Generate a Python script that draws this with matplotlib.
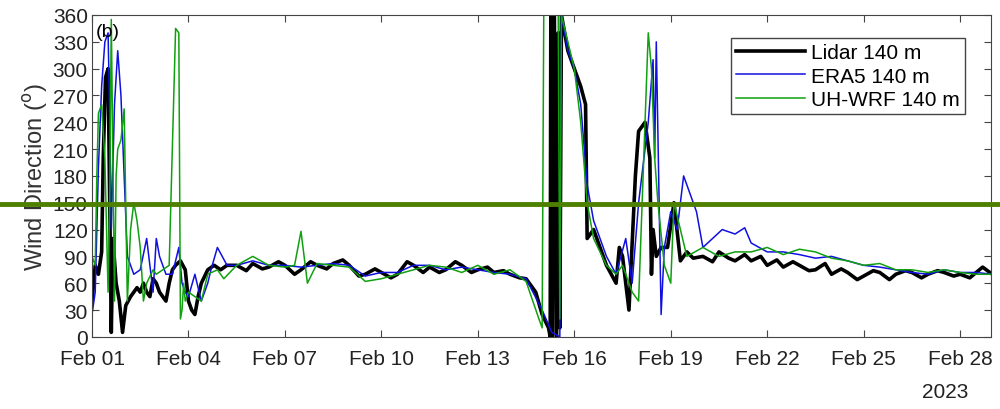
import matplotlib
matplotlib.use("Agg")
import matplotlib.pyplot as plt
from matplotlib.lines import Line2D

# ── data: (day offset from Feb 01, direction in deg) ──
lidar = [(0, 40), (.1, 80), (.2, 70), (.3, 95), (.35, 200), (.42, 290), (.5, 300), (.55, 150),
         (.6, 5), (.65, 110), (.75, 60), (.85, 40), (.95, 5), (1.05, 35), (1.2, 45), (1.4, 55),
         (1.5, 50), (1.6, 60), (1.7, 50), (1.8, 45), (1.9, 65), (2.0, 60), (2.1, 50), (2.2, 45),
         (2.3, 40), (2.4, 60), (2.5, 75), (2.6, 80), (2.75, 85), (2.9, 75), (3.0, 40), (3.1, 30),
         (3.2, 25), (3.3, 45), (3.4, 60), (3.6, 75), (3.8, 80), (4.0, 75), (4.2, 80), (4.5, 80),
         (4.8, 74), (5.0, 82), (5.3, 76), (5.5, 78), (5.8, 84), (6.0, 80), (6.3, 70), (6.5, 75),
         (6.8, 84), (7.0, 80), (7.3, 76), (7.5, 82), (7.8, 86), (8.0, 80), (8.3, 68), (8.5, 70),
         (8.8, 76), (9.0, 72), (9.3, 66), (9.5, 70), (9.8, 84), (10.0, 80), (10.3, 72),
         (10.5, 78), (10.8, 72), (11.0, 75), (11.3, 84), (11.5, 80), (11.8, 72), (12.0, 75),
         (12.3, 78), (12.5, 72), (12.8, 74), (13.0, 70), (13.3, 66), (13.5, 65), (13.8, 50),
         (14.0, 25), (14.2, 10),
         (14.25, 0), (14.27, 360), (14.32, 0), (14.38, 360), (14.45, 0), (14.5, 340), (14.55, 10),
         (14.6, 360), (14.8, 320), (15.0, 300), (15.2, 280), (15.35, 260), (15.4, 110),
         (15.6, 120), (15.8, 100), (16.0, 80), (16.3, 60), (16.4, 100), (16.5, 90), (16.7, 30),
         (16.9, 180), (17.0, 230), (17.2, 240), (17.35, 200), (17.4, 70), (17.45, 120),
         (17.55, 90), (17.7, 100), (17.9, 100), (18.1, 150), (18.3, 85), (18.4, 90), (18.5, 95),
         (18.7, 88), (19.0, 90), (19.3, 84), (19.5, 95), (19.8, 88), (20.0, 85), (20.3, 92),
         (20.5, 85), (20.8, 90), (21.0, 80), (21.3, 86), (21.5, 78), (21.8, 84), (22.0, 80),
         (22.3, 74), (22.5, 75), (22.8, 82), (23.0, 70), (23.3, 76), (23.5, 72), (23.8, 64),
         (24.0, 68), (24.3, 74), (24.5, 72), (24.8, 64), (25.0, 70), (25.3, 74), (25.5, 72),
         (25.8, 66), (26.0, 70), (26.3, 74), (26.5, 72), (26.8, 68), (27.0, 70), (27.3, 66),
         (27.5, 72), (27.7, 78), (28.0, 70)]

era5 = [(0, 25), (.1, 50), (.2, 190), (.3, 280), (.4, 330), (.5, 340), (.55, 250), (.6, 120),
        (.7, 260), (.8, 320), (.9, 270), (1.0, 180), (1.1, 90), (1.2, 80), (1.3, 70), (1.5, 75),
        (1.7, 110), (1.8, 80), (1.9, 50), (2.0, 110), (2.1, 90), (2.3, 70), (2.5, 70),
        (2.7, 100), (2.8, 60), (2.9, 50), (3.0, 45), (3.2, 70), (3.4, 40), (3.6, 60), (3.7, 75),
        (3.9, 100), (4.2, 80), (4.5, 80), (5.0, 85), (5.5, 80), (6.0, 80), (6.5, 78), (7.0, 80),
        (7.5, 82), (8.0, 80), (8.5, 68), (9.0, 72), (9.5, 72), (10.0, 80), (10.5, 80),
        (11.0, 75), (11.5, 78), (12.0, 75), (12.5, 72), (13.0, 70), (13.5, 65), (14.0, 30),
        (14.3, 5), (14.55, 0), (14.6, 360), (14.8, 320), (15.0, 300), (15.2, 260), (15.4, 170),
        (15.6, 130), (16.0, 90), (16.3, 70), (16.6, 110), (16.8, 60), (17.0, 150), (17.3, 240),
        (17.45, 310), (17.5, 200), (17.55, 330), (17.7, 25), (17.8, 100), (18.0, 140),
        (18.2, 120), (18.4, 180), (18.6, 160), (18.8, 140), (19.0, 100), (19.3, 110),
        (19.6, 120), (20.0, 115), (20.3, 122), (20.5, 105), (21.0, 95), (21.5, 95), (22.0, 92),
        (22.5, 88), (23.0, 90), (23.5, 85), (24.0, 80), (24.5, 78), (25.0, 75), (25.5, 72),
        (26.0, 70), (26.5, 75), (27.0, 72), (27.5, 72), (28.0, 70)]

wrf = [(0, 90), (.1, 80), (.15, 180), (.2, 250), (.3, 260), (.4, 200), (.5, 50), (.55, 150),
       (.6, 355), (.7, 40), (.75, 180), (.8, 210), (.9, 220), (1.0, 255), (1.1, 40), (1.2, 120),
       (1.3, 150), (1.4, 130), (1.5, 100), (1.6, 40), (1.7, 60), (1.9, 75), (2.0, 70),
       (2.2, 75), (2.4, 80), (2.6, 345), (2.7, 340), (2.75, 20), (2.8, 30), (2.85, 60),
       (2.9, 40), (3.0, 50), (3.2, 45), (3.4, 40), (3.6, 70), (3.9, 75), (4.1, 65), (4.5, 80),
       (5.0, 90), (5.5, 80), (6.0, 78), (6.3, 80), (6.5, 118), (6.7, 60), (7.0, 82), (7.5, 80),
       (8.0, 78), (8.5, 62), (9.0, 65), (9.5, 70), (10.0, 75), (10.5, 80), (11.0, 78),
       (11.5, 72), (12.0, 80), (12.5, 70), (13.0, 75), (13.5, 62), (13.9, 20), (14.0, 10),
       (14.05, 360), (14.5, 360), (14.55, 20), (14.6, 360), (14.8, 330), (15.0, 300),
       (15.2, 240), (15.4, 150), (15.6, 110), (16.0, 80), (16.3, 70), (16.5, 80), (16.8, 50),
       (17.0, 40), (17.3, 340), (17.4, 300), (17.5, 200), (17.6, 150), (17.8, 80), (18.0, 60),
       (18.1, 150), (18.3, 120), (18.5, 90), (19.0, 100), (19.5, 90), (20.0, 95), (20.5, 95),
       (21.0, 100), (21.5, 92), (22.0, 98), (22.5, 95), (23.0, 88), (23.5, 85), (24.0, 80),
       (24.5, 82), (25.0, 75), (25.5, 75), (26.0, 72), (26.5, 75), (27.0, 72), (27.5, 70),
       (28.0, 70)]

tick_days = [0, 3, 6, 9, 12, 15, 18, 21, 24, 27]
tick_labels = ["Feb 01", "Feb 04", "Feb 07", "Feb 10", "Feb 13",
               "Feb 16", "Feb 19", "Feb 22", "Feb 25", "Feb 28"]
y_ticks = list(range(0, 361, 30))

plt.rcParams["font.family"] = ["Liberation Sans", "DejaVu Sans"]
fig = plt.figure(figsize=(10, 4.1), dpi=100)
ax = fig.add_axes([0.092, 0.176, 0.899, 0.785])

for series, col, lw, lab in [(lidar, "black", 2.6, "Lidar 140 m"),
                             (era5, "#1010e0", 1.1, "ERA5 140 m"),
                             (wrf, "#10a010", 1.1, "UH-WRF 140 m")]:
    t, v = zip(*series)
    ax.plot(t, v, color=col, lw=lw, label=lab)

ax.set_xlim(0, 27.96)
ax.set_ylim(0, 360)
ax.set_xticks(tick_days)
ax.set_xticklabels(tick_labels)
ax.set_yticks(y_ticks)
ax.tick_params(labelsize=15, direction="in", length=5, top=True, right=True,
               color="#444444", labelcolor="#222222")
ax.tick_params(axis="x", pad=9)
ax.tick_params(axis="y", pad=3)
for s in ax.spines.values():
    s.set_color("#444444")
ax.set_ylabel("Wind Direction ($^{\\rm o}$)", fontsize=17, color="#333333", labelpad=2)
ax.text(0.004, 0.975, "(b)", transform=ax.transAxes, fontsize=14, va="top")
ax.text(26.55, -50, "2023", fontsize=15, ha="center", va="top", color="#222222")
ax.legend(loc="upper right", bbox_to_anchor=(0.983, 0.96), fontsize=15, frameon=True,
          fancybox=False, edgecolor="#444444", framealpha=1, handlelength=3.3, borderpad=0.25,
          labelspacing=0.2, handletextpad=0.3)

# thick green guide line across the whole figure
fig.add_artist(Line2D([0, 1], [1 - 205 / 410] * 2, transform=fig.transFigure,
                      color="#4e8000", lw=3.5))

fig.savefig("out.png", dpi=100)
